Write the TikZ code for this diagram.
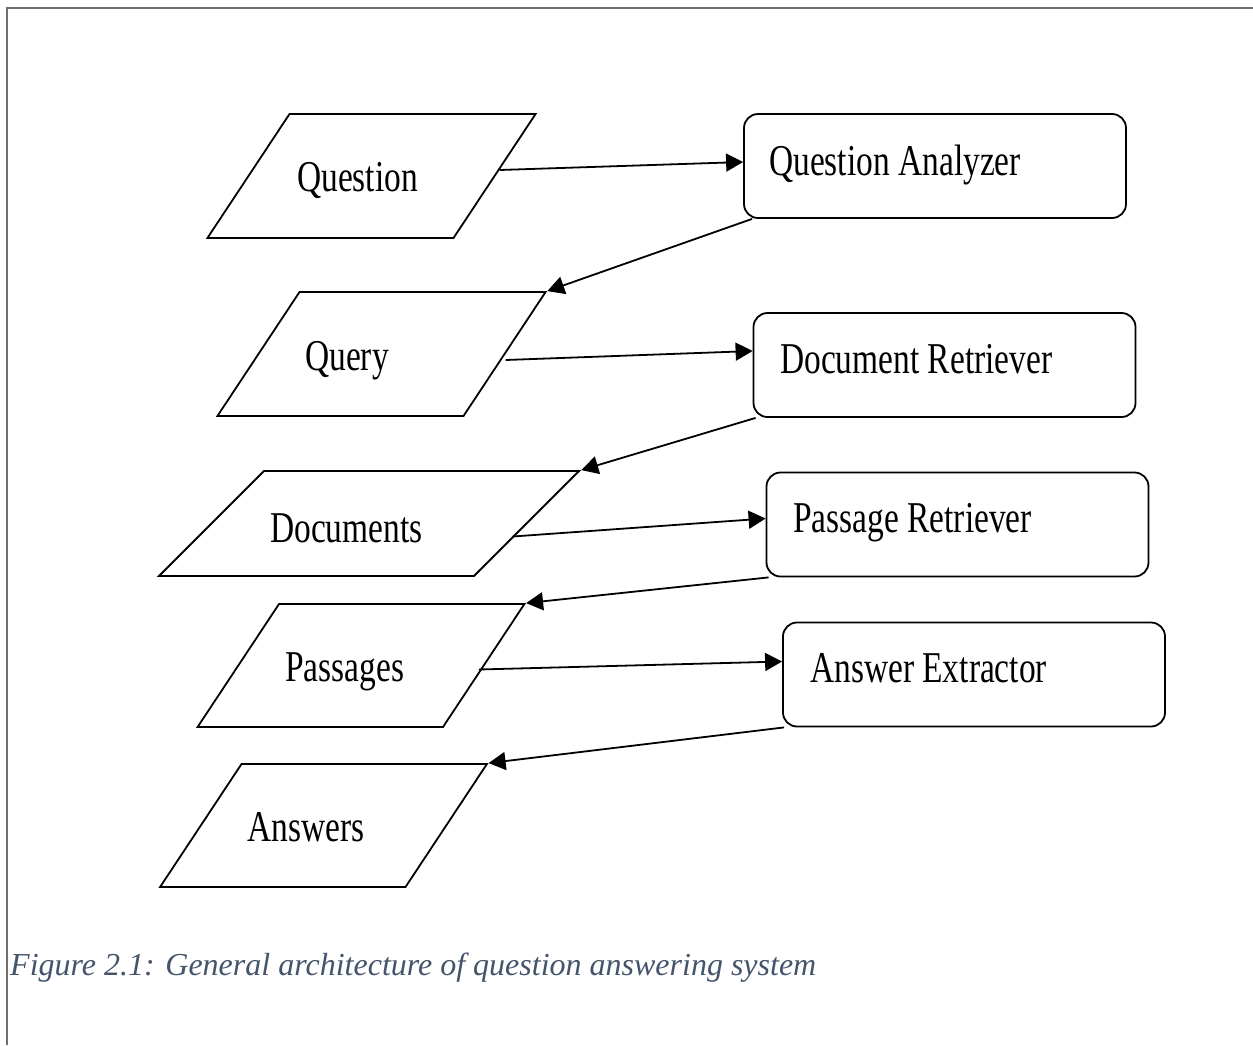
\documentclass[tikz,border=0pt]{standalone}
\usepackage{fontspec}
\setmainfont[FakeStretch=0.76]{Liberation Serif}
\newfontfamily\capfont{Liberation Serif}
\usetikzlibrary{shapes.geometric}
\usetikzlibrary{arrows.meta}
\definecolor{capblue}{HTML}{44546A}
\definecolor{framegray}{HTML}{6E6E6E}

\begin{document}
\begin{tikzpicture}[x=1pt, y=-1pt,
  para/.style={draw, black, line width=1.8pt, shape=trapezium,
    trapezium left angle=56.5, trapezium right angle=123.5,
    minimum width=0pt, minimum height=0pt, inner xsep=82pt, inner ysep=62pt},
  proc/.style={draw, black, line width=1.8pt, rounded corners=14pt,
    minimum width=382pt, minimum height=104pt, inner sep=0pt},
  lbl/.style={anchor=base west, inner sep=0pt, font=\fontsize{44}{50}\selectfont},
  flow/.style={line width=1.8pt, -{Triangle[length=\l, width=\w]}}]
\def\l{17pt}
\def\w{18pt}
\useasboundingbox (0,0) rectangle (1253,1045);

% frame of the page
\draw [framegray, line width=1.5pt] (1253,8) -- (7,8) -- (7,1045);

% data
\node [para, name=q]    at (371.5,176) {};
\node [para, name=qry]  at (381.5,354) {};
\node [para, trapezium left angle=45, trapezium right angle=135,
       inner xsep=105pt, inner ysep=52.5pt, name=docs] at (369,523.5) {};
\node [para, inner ysep=61.5pt, name=pass] at (361,665.5) {};
\node [para, inner ysep=61.5pt, name=ans]  at (323.5,825.5) {};

\node [lbl, name=qt]    at (297,191) {Question};
\node [lbl, name=qryt]  at (305,370) {Query};
\node [lbl, name=docst] at (270,542) {Documents};
\node [lbl, name=passt] at (285,681) {Passages};
\node [lbl, name=anst]  at (247,841) {Answers};

% modules
\node [proc, name=qa] at (935,166)     {};
\node [proc, name=dr] at (944.5,365)   {};
\node [proc, name=pr] at (957.5,524.5) {};
\node [proc, name=ae] at (974,674.5)   {};

\node [lbl, name=qat] at (769,175) {Question Analyzer};
\node [lbl, name=drt] at (780,373) {Document Retriever};
\node [lbl, name=prt] at (793,532) {Passage Retriever};
\node [lbl, name=aet] at (810,682) {Answer Extractor};

\draw [flow]([xshift=4pt, yshift=6pt]q.east) -- ([yshift=4pt]qa.west);
\draw [flow]([xshift=9pt]qa.south west) -- (qry.top right corner);
\draw [flow]([yshift=-6pt]qry.east) -- ([yshift=14pt]dr.west);
\draw [flow]([xshift=3pt]dr.south west) -- (docs.top right corner);
\draw [flow]([xshift=-15pt, yshift=-13pt]docs.east) -- ([yshift=6pt]pr.west);
\draw [flow]([xshift=3pt]pr.south west) -- (pass.top right corner);
\draw [flow]([xshift=-6pt, yshift=-4pt]pass.east) -- ([yshift=13pt]ae.west);
\draw [flow]([xshift=2pt]ae.south west) -- (ans.top right corner);

\node [anchor=base west, inner sep=0pt, text=capblue, font=\capfont\itshape\fontsize{32}{38}\selectfont,
       name=cap] at (10,975) {Figure 2.1: General architecture of question answering system};
\end{tikzpicture}
\end{document}
